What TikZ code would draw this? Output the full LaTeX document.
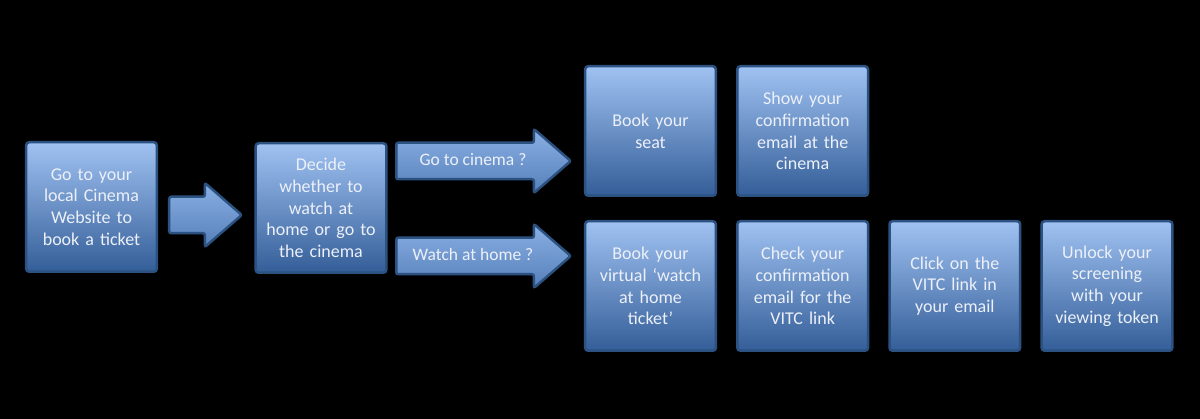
\documentclass[tikz,border=0pt]{standalone}
\usepackage{fontspec}
\setmainfont{Carlito}
\usetikzlibrary{positioning,shapes.arrows}
\definecolor{boxtop}{RGB}{160,194,242}
\definecolor{boxbot}{RGB}{52,94,152}
\definecolor{boxline}{RGB}{44,82,130}
\definecolor{arrtop}{RGB}{138,176,228}
\definecolor{arrbot}{RGB}{86,128,186}
\definecolor{boxtext}{RGB}{236,240,248}

\begin{document}
\begin{tikzpicture}[x=1pt, y=1pt,
  stepbox/.style={rectangle, draw=boxline, line width=2.5pt, rounded corners=3pt, top color=boxtop, bottom color=boxbot, minimum width=130.5pt, minimum height=129.5pt, text width=124pt, align=center, text=boxtext, font=\fontsize{18}{21.7}\selectfont},
  bigarrow/.style={single arrow, draw=boxline, line width=2.5pt, rounded corners=2pt, top color=arrtop, bottom color=arrbot, single arrow head extend=13.75pt, single arrow tip angle=82, text height=13pt, text depth=4pt, inner ysep=8.5pt, text=boxtext, font=\fontsize{17.5}{21}\selectfont}
]
\fill[black] (0,0) rectangle (1200,419);
\node[stepbox] (web) at (91.5,212) {Go to your\\local Cinema\\Website to\\book a ticket};
\node[bigarrow, minimum height=72.5pt] (go) at (195,204) {};
\node[stepbox] (decide) at (321,211) {Decide\\whether to\\watch at\\home or go to\\the cinema};
\node[bigarrow, minimum height=174.5pt] (cinema) at (473,258) {Go to cinema ?};
\node[bigarrow, minimum height=174.5pt] (home) at (473,163) {Watch at home ?};
\node[stepbox] (seat) at (650.5,288) {Book your\\seat};
\node[stepbox, right=19pt of seat] (show) {Show your\\confirmation\\email at the\\cinema};
\node[stepbox, below=23pt of seat] (virtual) {Book your\\virtual ‘watch\\at home\\ticket’};
\node[stepbox, right=19pt of virtual] (check) {Check your\\confirmation\\email for the\\VITC link};
\node[stepbox, right=19pt of check] (click) {Click on the\\VITC link in\\your email};
\node[stepbox, right=19pt of click] (unlock) {Unlock your\\screening\\with your\\viewing token};
\end{tikzpicture}
\end{document}
